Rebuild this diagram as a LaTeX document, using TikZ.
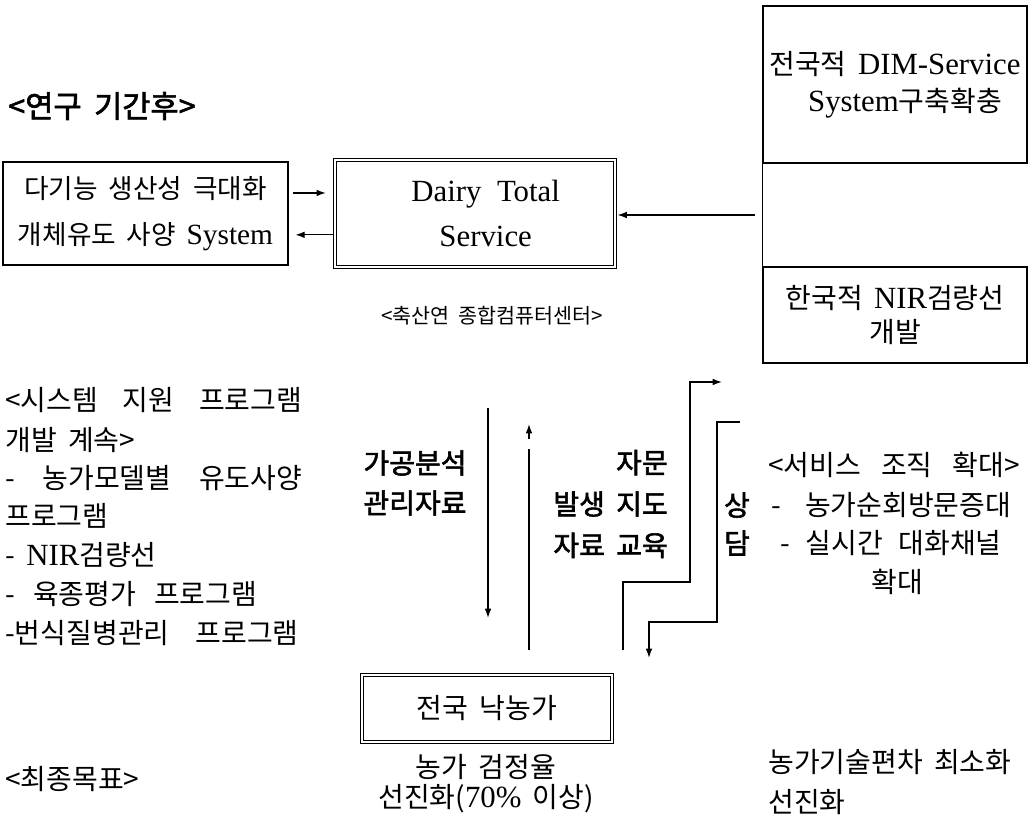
\documentclass[tikz,border=0pt]{standalone}
\usepackage{fontspec}
\setmainfont[WordSpace=1.8,AutoFakeBold=2]{Noto Sans CJK KR}
\newfontfamily\latfont[Scale=1.1]{Liberation Serif}
\newcommand\lat[1]{{\latfont #1}}
\usetikzlibrary{arrows.meta}
\begin{document}
\begin{tikzpicture}[x=0.75pt,y=-0.75pt,
  txt/.style={inner sep=0pt, font=\fontsize{21}{30}\selectfont},
  btxt/.style={inner sep=0pt, font=\fontsize{21}{30}\selectfont\bfseries},
  box/.style={draw, line width=1pt, inner sep=0pt, align=center},
  dbox/.style={draw, line width=0.7pt, double, double distance=1.5pt, inner sep=0pt, align=center},
  link/.style={line width=1pt},
  arr/.style={link, -{Latex[length=7pt,width=5pt]}}]
\useasboundingbox (0,0) rectangle (1032,816);

% heading
\node[inner sep=0pt, anchor=west, font=\fontsize{23}{26}\selectfont\bfseries] (title) at (8,106) {<연구 기간후>};

% upper row of boxes
\node[box, minimum width=213.75pt, minimum height=77.25pt, font=\fontsize{20}{35}\selectfont] (A) at (145.5,213.5)
  {다기능 생산성 극대화\\개체유도 사양 \lat{System}};
\node[dbox, minimum width=210pt, minimum height=80.25pt, font=\fontsize{21}{34}\selectfont] (B) at (475,213.5)
  {\hspace*{16pt}\lat{Dairy\ \ Total}\\\hspace*{16pt}\lat{Service}};
\node[inner sep=0pt, font=\fontsize{15.5}{18}\selectfont] (center) at (492,316) {<축산연 종합컴퓨터센터>};

% right column
\node[box, minimum width=198pt, minimum height=117.75pt, font=\fontsize{21}{27.75}\selectfont] (R1) at (895,84.5)
  {전국적 \lat{DIM-Service}\\\hspace*{15pt}\lat{System}구축확충};
\node[box, minimum width=198pt, minimum height=72pt, font=\fontsize{21}{26}\selectfont] (R2) at (895,315)
  {한국적 \lat{NIR}검량선\\개발};
\draw[link] (R1.south west) -- (R2.north west);

\coordinate (rin) at (755,215);
\draw[arr, shorten >=1.5pt] (rin) -- (B.east |- rin);
\draw[arr, shorten <=3pt, shorten >=6.5pt] ([yshift=15.4pt]A.east) -- ([yshift=15.4pt]B.west);
\draw[arr, shorten <=1.5pt, shorten >=5pt] ([yshift=-16pt]B.west) -- ([yshift=-16pt]A.east);

% left list
\node[txt, anchor=west] (L1) at (5,400) {\makebox[222.75pt][s]{<시스템 지원 프로그램}};
\node[txt, anchor=west] (L2) at (5,440) {개발 계속>};
\node[txt, anchor=west] (L3) at (5,478) {\makebox[222.75pt][s]{- 농가모델별 유도사양}};
\node[txt, anchor=west] (L4) at (5,516) {프로그램};
\node[txt, anchor=west] (L5) at (5,555) {- \lat{NIR}검량선};
\node[txt, anchor=west] (L6) at (5,594) {\makebox[189pt][s]{- 육종평가 프로그램}};
\node[txt, anchor=west] (L7) at (5,633) {\makebox[220pt][s]{-번식질병관리 프로그램}};

% flow labels
\node[btxt, align=center] (proc) at (415,483) {가공분석\\관리자료};
\node[btxt, align=right, anchor=east, font=\fontsize{21}{31}\selectfont\bfseries] (advice) at (668,504) {자문\\발생 지도\\자료 교육};
\node[btxt, align=center, font=\fontsize{21}{28.5}\selectfont\bfseries] (consult) at (737,524) {상\\담};

% service list
\node[txt] (svc) at (894,465) {\makebox[189pt][s]{<서비스 조직 확대>}};
\node[txt, anchor=west] (svc1) at (771,505) {\makebox[180pt][s]{- 농가순회방문증대}};
\node[txt, anchor=west] (svc2) at (780,543) {\makebox[166pt][s]{- 실시간 대화채널}};
\node[txt] (svc3) at (897,582) {확대};

% farms and goals
\node[dbox, minimum width=187.5pt, minimum height=50.25pt, font=\fontsize{21}{24}\selectfont] (C) at (487,708.5) {전국 낙농가};
\node[txt, align=center, font=\fontsize{21}{22.5}\selectfont] (rate) at (486,784) {농가 검정율\\선진화(\lat{70\%} 이상)};
\node[txt, anchor=west] (goal) at (5,779) {<최종목표>};
\node[txt, align=left, anchor=west, font=\fontsize{21}{29.5}\selectfont] (gap) at (768,782) {농가기술편차 최소화\\선진화};

% vertical flows
\coordinate (dtop) at (488,408);
\coordinate (dbot) at (488,618);
\draw[arr] (dtop) -- (dbot);
\coordinate (ubot) at (529,650);
\coordinate (ugap) at (529,449);
\coordinate (uhead) at (529,439);
\coordinate (utop) at (529,424);
\draw[link] (ubot) -- (ugap);
\draw[arr] (uhead) -- (utop);
\coordinate (s1a) at (623,650);
\coordinate (s1b) at (722,382);
\draw[arr] (s1a) |- (690,582) |- (s1b);
\coordinate (s2a) at (740,422);
\coordinate (s2b) at (649,658);
\draw[arr] (s2a) -| (717,622) -| (s2b);
\end{tikzpicture}
\end{document}
